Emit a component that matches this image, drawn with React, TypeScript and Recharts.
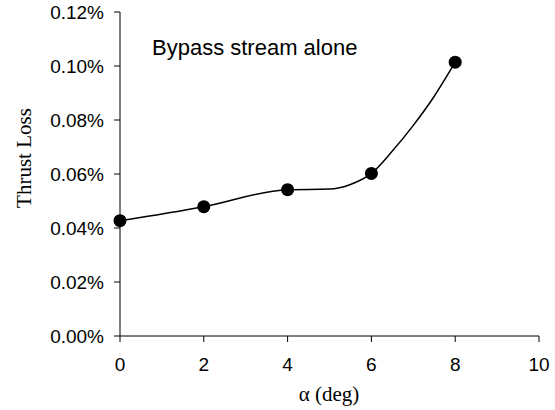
import React from 'react';
import { ComposedChart, Line, XAxis, YAxis, Customized } from 'recharts';

// thrust loss in percent
const alpha = [0, 2, 4, 6, 8];
const thrustLoss = [0.0427, 0.0479, 0.0542, 0.0602, 0.1014];

// points along the smoothed line as drawn
const curveAlpha = [0, 2, 4, 5, 5.5, 6, 6.5, 7, 7.5, 8];
const curveLoss = [0.0427, 0.0479, 0.0542, 0.0544, 0.0561, 0.0602, 0.0685, 0.078, 0.0888, 0.1014];

const xTicks = [0, 2, 4, 6, 8, 10];
const yTicks = [0, 0.02, 0.04, 0.06, 0.08, 0.1, 0.12];

const markers = alpha.map((a, i) => ({ a, loss: thrustLoss[i] }));
const curve = curveAlpha.map((a, i) => ({ a, loss: curveLoss[i] }));

const sans = 'Liberation Sans, Arial, sans-serif';
const serif = 'Liberation Serif, Times New Roman, serif';
const tickFont = { fontFamily: sans, fontSize: 19, fill: '#000' };

const Frame = (props: any) => {
    const { offset } = props;
    if (!offset) return null;
    const { left, top, width, height } = offset;
    return (
        <g>
            <line x1={left} y1={top} x2={left + width} y2={top} stroke="#808080" />
            <line x1={left + width} y1={top} x2={left + width} y2={top + height} stroke="#808080" />
        </g>
    );
};

export default function App() {
    return (
        <div style={{ position: 'fixed', left: 0, top: 0, background: '#fff' }}>
            <ComposedChart width={555} height={410} margin={{ top: 12, right: 16, bottom: 34, left: 60 }}>
                <Customized component={Frame} />
                <XAxis
                    dataKey="a"
                    type="number"
                    domain={[0, 10]}
                    ticks={xTicks}
                    allowDuplicatedCategory={false}
                    height={40}
                    stroke="#000"
                    tickSize={6}
                    tickMargin={16}
                    tick={tickFont}
                />
                <YAxis
                    type="number"
                    domain={[0, 0.12]}
                    ticks={yTicks}
                    width={60}
                    stroke="#000"
                    tickSize={6}
                    tickMargin={10}
                    tick={tickFont}
                    tickFormatter={(v: number) => `${v.toFixed(2)}%`}
                />
                <Line
                    data={curve}
                    dataKey="loss"
                    type="monotone"
                    stroke="#000"
                    strokeWidth={1.5}
                    dot={false}
                    activeDot={false}
                    isAnimationActive={false}
                />
                <Line
                    data={markers}
                    dataKey="loss"
                    stroke="none"
                    dot={{ r: 6.5, fill: '#000', stroke: '#000', strokeWidth: 0 }}
                    activeDot={false}
                    isAnimationActive={false}
                />
                <text x={152} y={55} style={{ fontFamily: sans, fontSize: 22, fill: '#000' }}>
                    Bypass stream alone
                </text>
                <text x={329} y={401} textAnchor="middle" style={{ fontFamily: serif, fontSize: 21, fill: '#000' }}>
                    α (deg)
                </text>
                <text
                    x={0}
                    y={0}
                    transform="translate(31,158) rotate(-90)"
                    textAnchor="middle"
                    style={{ fontFamily: serif, fontSize: 21, fill: '#000' }}
                >
                    Thrust Loss
                </text>
            </ComposedChart>
        </div>
    );
}
